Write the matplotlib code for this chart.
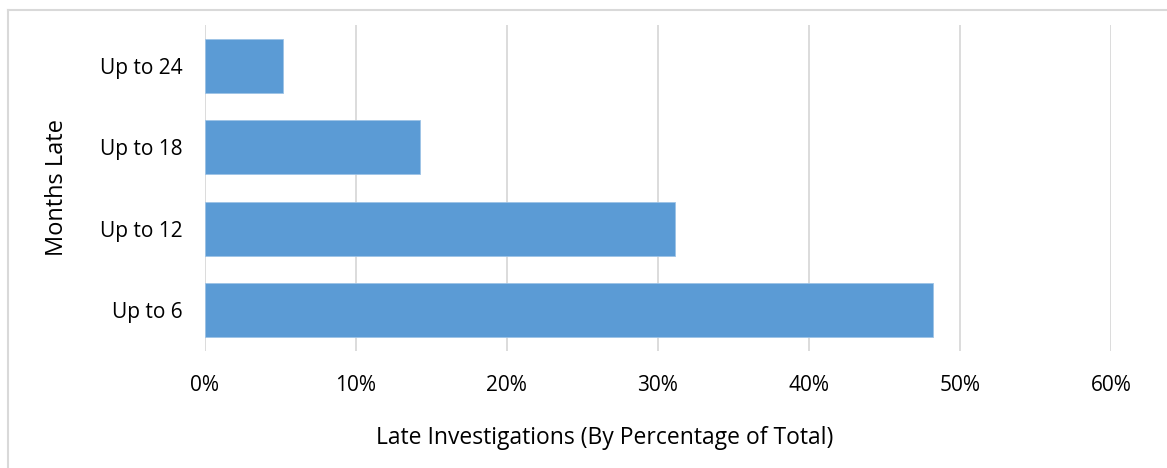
import matplotlib
matplotlib.use('Agg')
import matplotlib.pyplot as plt
from matplotlib.lines import Line2D
from matplotlib.ticker import PercentFormatter

# Data
categories = ['Up to 6', 'Up to 12', 'Up to 18', 'Up to 24']
late_share = [0.4825, 0.3114, 0.1427, 0.0518]
x_ticks = [0, 0.1, 0.2, 0.3, 0.4, 0.5, 0.6]

bar_color = '#5B9BD5'
grid_color = '#D9D9D9'
text_color = '#000000'

plt.rcParams['font.family'] = ['Open Sans', 'DejaVu Sans']

fig = plt.figure(figsize=(11.67, 4.68), dpi=100)
ax = fig.add_axes([204.5 / 1167, 1 - 351 / 468, (1111 - 204.5) / 1167, (351 - 25) / 468])

ax.barh(range(len(categories)), late_share, height=0.66, color=bar_color,
        edgecolor='#9DC3E6', linewidth=0.6, zorder=3)

ax.set_xlim(0, 0.6)
ax.set_ylim(-0.5, len(categories) - 0.5)
ax.set_xticks(x_ticks)
ax.xaxis.set_major_formatter(PercentFormatter(1.0, decimals=0))
ax.set_yticks(range(len(categories)))
ax.set_yticklabels(categories)

ax.grid(axis='x', color=grid_color, linewidth=1.3, zorder=0)
for s in ax.spines.values():
    s.set_visible(False)
ax.tick_params(axis='both', length=0, labelsize=15, colors=text_color)
ax.tick_params(axis='y', pad=16)
ax.tick_params(axis='x', pad=17)

ax.set_xlabel('Late Investigations (By Percentage of Total)', fontsize=16.5,
              color=text_color)
# axis title sits centred on the whole chart area, not on the plot area
ax.xaxis.set_label_coords((604.5 - 204.5) / 906.5, -(438 - 351) / 326, transform=ax.transAxes)
ax.xaxis.label.set_va('center')
ax.set_ylabel('Months Late', fontsize=17, color=text_color, labelpad=22)

# outer chart border (left and top edges visible)
fig.add_artist(Line2D([7.5 / 1167, 7.5 / 1167], [0, 1 - 10 / 468], color=grid_color,
                      linewidth=1.5, transform=fig.transFigure))
fig.add_artist(Line2D([7.5 / 1167, 1], [1 - 10 / 468, 1 - 10 / 468], color=grid_color,
                      linewidth=1.5, transform=fig.transFigure))

fig.savefig('out.png', dpi=100)
